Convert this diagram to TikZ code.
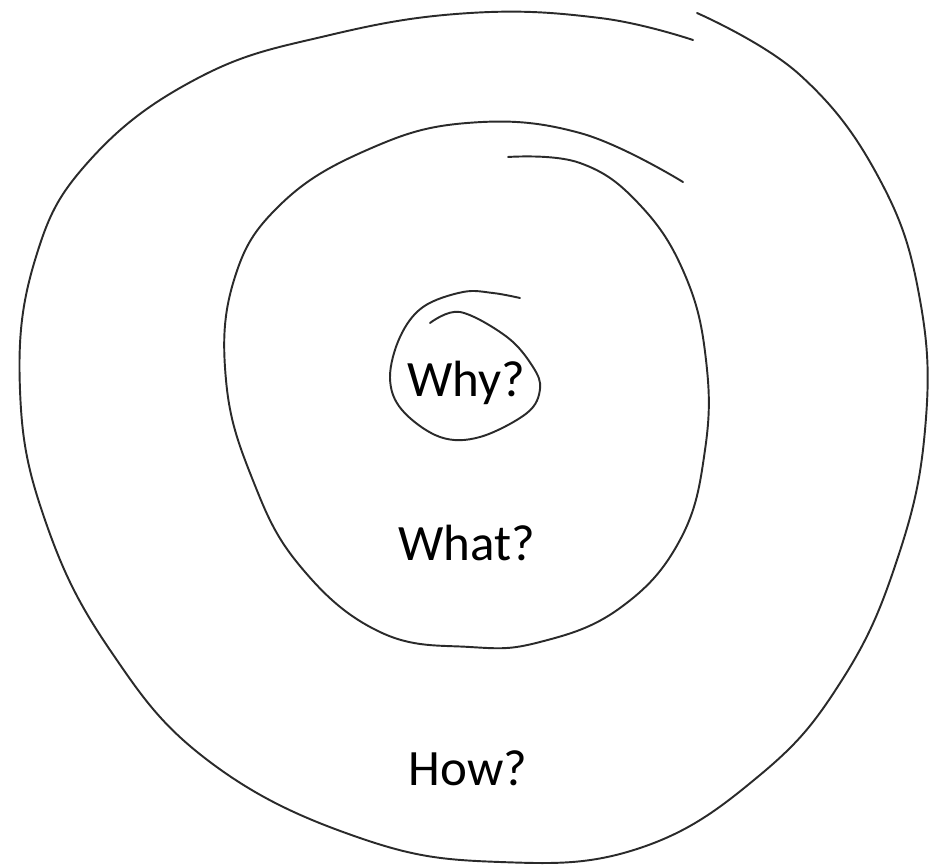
\documentclass[tikz,border=0pt]{standalone}
\usepackage{fontspec}
\setmainfont{Carlito}
\usetikzlibrary{positioning}
\definecolor{pencil}{HTML}{2A2A2A}

\begin{document}
\begin{tikzpicture}[x=0.02cm,y=-0.02cm,
  stroke/.style={pencil,line width=1.1pt,line cap=round},
  word/.style={font=\fontsize{29}{33}\selectfont,inner sep=0pt}]
\useasboundingbox (0,0) rectangle (930,865);
% outer turn
\draw[stroke] plot[smooth,tension=0.7] coordinates {(697,13) (800,75) (880,180) (920,300) (925,430) (897,560) (842,680) (760,775) (640,848) (500,862) (360,838) (210,762) (110,650) (45,520) (20,390) (35,260) (90,160) (200,77) (330,35) (470,13) (600,18) (693,40)};
% middle turn
\draw[stroke] plot[smooth,tension=0.7] coordinates {(508,157) (580,163) (640,205) (685,275) (706,360) (705,450) (680,540) (620,608) (540,642) (470,647) (380,632) (300,566) (252,478) (226,380) (234,280) (280,205) (367,150) (467,123) (580,133) (683,182)};
% inner turn
\draw[stroke] plot[smooth,tension=0.6] coordinates {(430,323) (460,312) (507,337) (533,367) (540,389) (527,413) (480,437) (440,437) (402,410) (390,378) (400,337) (423,307) (463,292) (493,293) (520,298)};
\node[word] (why) at (466,383) {Why?};
\node[word] (what) at (467,543) {What?};
\node[word] (how) at (468,768) {How?};
\end{tikzpicture}
\end{document}
